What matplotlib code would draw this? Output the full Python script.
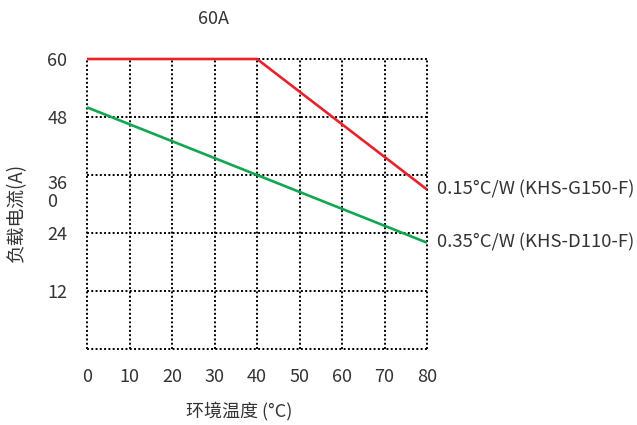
import matplotlib
matplotlib.use("Agg")
import matplotlib.pyplot as plt

plt.rcParams['font.family'] = ['Noto Sans CJK SC', 'DejaVu Sans']
plt.rcParams['font.weight'] = 'light'

temps_red = [0, 40, 80]
current_red = [60, 60, 33]
temps_green = [0, 40, 80]
current_green = [50, 36, 22]
xticks = [0, 10, 20, 30, 40, 50, 60, 70, 80]
yticks = [12, 24, 36, 48, 60]
ytick_labels = ["12", "24", "36\n0", "48", "60"]
label_red = "0.15\u00b0C/W\u2009(KHS-G150-F)"
label_green = "0.35\u00b0C/W\u2009(KHS-D110-F)"

fig = plt.figure(figsize=(6.37, 4.25), dpi=100)
ax = fig.add_axes([87/637, 1-349/425, 340/637, 290/425])
txt = '#333333'
dot = dict(color='black', linestyle=(0, (1, 1.2)), linewidth=1.4, clip_on=False)
for x in xticks:
    ax.axvline(x, **dot, zorder=1)
for y in [0, 12, 24, 36, 48, 60]:
    ax.axhline(y, **dot, zorder=1)
for s in ax.spines.values():
    s.set_visible(False)

ax.plot(temps_red, current_red, color='#e8212b', linewidth=1.9, zorder=3,
        solid_capstyle='butt', clip_on=False)
ax.plot(temps_green, current_green, color='#11a650', linewidth=1.9, zorder=3,
        solid_capstyle='butt', clip_on=False)

ax.set_xlim(0, 80)
ax.set_ylim(0, 60)
ax.set_xticks(xticks)
ax.set_xticklabels([str(v) for v in xticks])
ax.set_yticks(yticks)
ax.set_yticklabels(ytick_labels)
ax.tick_params(axis='both', length=0, labelsize=13, colors=txt)
ax.tick_params(axis='x', pad=14)
for lab in ax.get_yticklabels():
    lab.set_horizontalalignment('left')
    lab.set_x(-35/340)
    lab.set_linespacing(1.0)
    if '\n' in lab.get_text():
        lab.set_verticalalignment('top')
        lab.set_y(36.5)

ax.text(82.4, current_red[-1], label_red, fontsize=13.3, color=txt, va='center', ha='left')
ax.text(82.4, current_green[-1], label_green, fontsize=13.3, color=txt, va='center', ha='left')

fig.text(213/637, 1-19/425, "60A", fontsize=13, color=txt, ha='center', va='center')
fig.text(239/637, 1-411/425, "环境温度 (°C)", fontsize=13, color=txt, ha='center', va='center')
fig.text(17/637, 1-212/425, "负载电流(A)", fontsize=13.5, color=txt, ha='center', va='center', rotation=90)

fig.savefig("out.png", dpi=100)
